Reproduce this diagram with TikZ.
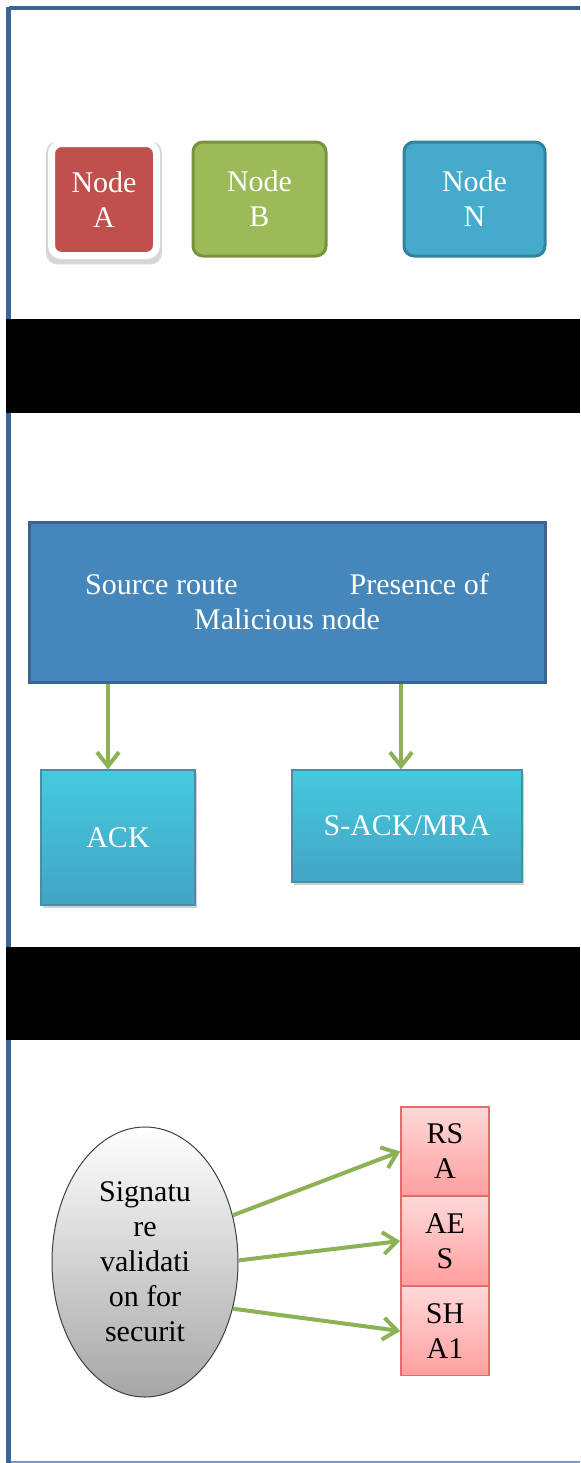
\documentclass[tikz,border=0pt]{standalone}
\usepackage{fontspec}
\setmainfont{Liberation Serif}
\usetikzlibrary{arrows.meta,shadows,shapes.geometric}
\definecolor{frameblue}{HTML}{3A6496}
\definecolor{framelight}{HTML}{7A98C0}
\definecolor{nodered}{HTML}{C0504D}
\definecolor{nodegreen}{HTML}{9BBB59}
\definecolor{nodegreendark}{HTML}{77933C}
\definecolor{nodecyan}{HTML}{45AACB}
\definecolor{nodecyandark}{HTML}{31849B}
\definecolor{routeblue}{HTML}{4586BB}
\definecolor{routeedge}{HTML}{3B6394}
\definecolor{arrowgreen}{HTML}{8DB255}
\tikzset{
  member/.style={rounded corners=5pt, minimum width=66.5pt, minimum height=57pt, text=white},
  bevel/.style={top color=cyan!30!nodecyan!90!white, bottom color=nodecyan!85!nodecyandark, draw=nodecyandark!90,
    line width=0.6pt, text=white, drop shadow={opacity=0.35, shadow xshift=1pt, shadow yshift=-1.5pt}},
  algo/.style={top color=red!15, bottom color=red!38, draw=red!45!nodered!70, line width=0.8pt,
    minimum width=44pt, minimum height=44.5pt},
  flow/.style={draw=arrowgreen, line width=2pt, -{Straight Barb[length=7pt,width=11pt]}}
}
\begin{document}
\begin{tikzpicture}[x=0.5pt,y=-0.5pt,
  every node/.style={font=\fontsize{15}{17.5}\selectfont, align=center, inner sep=0pt}]
\useasboundingbox (0,0) rectangle (580,1463);
\fill[white] (0,0) rectangle (580,1463);
% frame
\draw[framelight, line width=1pt] (8.5,1461.5) -- (580,1461.5);
\draw[frameblue, line width=2pt] (580,8) -- (8.5,8);
\draw[frameblue, line width=2.5pt] (8.5,7) -- (8.5,1463);
% bands
\fill[black] (6,319) rectangle (580,413);
\fill[black] (6,947) rectangle (580,1040);
% nodes of the network
\node[member, fill=nodered, draw=white, line width=3.5pt, minimum width=52.5pt, minimum height=56pt,
  general shadow={fill=black!35, shadow scale=1.1, shadow yshift=-1.5pt, opacity=0.45}] (nodeA) at (104,199.5) {Node\\A};
\node[member, fill=nodegreen, draw=nodegreendark, line width=1.5pt] (nodeB) at (259.5,199) {Node\\B};
\node[member, fill=nodecyan, draw=nodecyandark, line width=1.5pt, minimum width=70.5pt] (nodeN) at (474.5,199) {Node\\N};
% route check
\node[fill=routeblue, draw=routeedge, line width=1.5pt, minimum width=258pt, minimum height=80pt, text=white]
  (route) at (287,602) {Source route\hspace{56pt}Presence of\\Malicious node};
\node[bevel, minimum width=77pt, minimum height=67.5pt] (ack) at (118,837.5) {ACK};
\node[bevel, minimum width=115pt, minimum height=56pt] (sack) at (407,826) {S-ACK/MRA};
\draw[flow] ([xshift=-5pt]route.south -| ack.north) -- ([xshift=-5pt]ack.north);
\draw[flow] ([xshift=-3pt]route.south -| sack.north) -- ([xshift=-3pt]sack.north);
% signature
\node[ellipse, top color=white, bottom color=black!35, draw=black!75, line width=0.5pt,
  minimum width=93pt, minimum height=135pt] (sig) at (145,1262) {Signatu\\re\\validati\\on for\\securit};
\node[algo] (rsa) at (445,1151.5) {RS\\A};
\node[algo] (aes) at (445,1241) {AE\\S};
\node[algo] (sha) at (445,1331) {SH\\A1};
\draw[flow] (sig.28) -- (rsa.west);
\draw[flow] (sig.1) -- (aes.west);
\draw[flow] (sig.-28) -- (sha.west);
\end{tikzpicture}
\end{document}
